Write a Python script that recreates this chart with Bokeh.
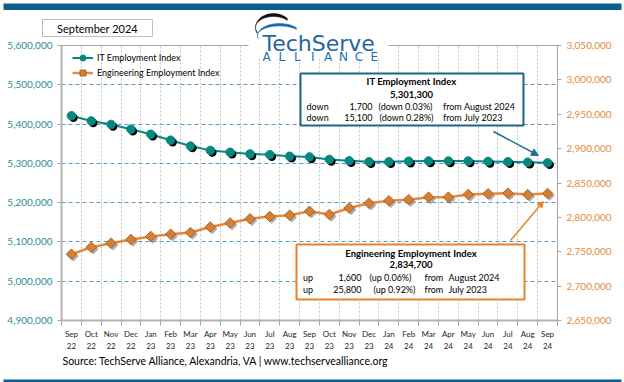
import math
from bokeh.plotting import figure
from bokeh.models import (Range1d, LinearAxis, FixedTicker, NumeralTickFormatter, Label,
                          BoxAnnotation, Arrow, NormalHead, Legend, LegendItem, ColumnDataSource)
from bokeh.transform import dodge
from bokeh.embed import file_html
from bokeh.resources import INLINE

# ---------------- data ----------------
month_labels = ["Sep", "Oct", "Nov", "Dec", "Jan", "Feb", "Mar", "Apr", "May", "Jun", "Jul", "Aug",
                "Sep", "Oct", "Nov", "Dec", "Jan", "Feb", "Mar", "Apr", "May", "Jun", "Jul", "Aug", "Sep"]
year_labels = ["22", "22", "22", "22", "23", "23", "23", "23", "23", "23", "23", "23",
               "23", "23", "23", "23", "24", "24", "24", "24", "24", "24", "24", "24", "24"]
it_index = [5421000, 5408000, 5399000, 5387000, 5374000, 5359000, 5344000, 5333000, 5328000,
            5324000, 5322000, 5318000, 5316400, 5310000, 5306500, 5304000, 5304000, 5305500,
            5306000, 5306000, 5306000, 5305000, 5304000, 5303000, 5301300]
eng_index = [2746400, 2756600, 2762400, 2767800, 2772200, 2775500, 2778000, 2786000, 2791800,
             2797900, 2801300, 2803200, 2808900, 2804200, 2813600, 2820600, 2824100, 2825700,
             2829400, 2829400, 2833300, 2834300, 2835200, 2833100, 2834700]
left_ticks = [4900000, 5000000, 5100000, 5200000, 5300000, 5400000, 5500000, 5600000]
right_ticks = [2650000, 2700000, 2750000, 2800000, 2850000, 2900000, 2950000, 3000000, 3050000]

n = len(month_labels)
xs = list(range(n))

TEAL = "#06877f"
ORANGE = "#e8883a"
FONT = "Lato"
LOGO_FONT = "DejaVu Sans"
W, H = 624, 382
FR_L, FR_R, FR_T, FR_B = 61, 557, 45, 320      # plot frame in page pixels
FW, FH = FR_R - FR_L, FR_B - FR_T

# ======================= main chart =======================
p = figure(width=W, height=H, output_backend="svg", toolbar_location=None, title=None,
           x_range=Range1d(-0.5, n - 0.5),
           y_range=Range1d(left_ticks[0], left_ticks[-1]),
           min_border_left=FR_L, min_border_right=W - FR_R,
           min_border_top=FR_T, min_border_bottom=H - FR_B,
           background_fill_color="white", border_fill_color="white")
p.extra_y_ranges = {"eng": Range1d(right_ticks[0], right_ticks[-1])}
p.outline_line_color = "#a6a6a6"
p.outline_line_width = 1

xa = p.xaxis[0]
xa.ticker = FixedTicker(ticks=xs, minor_ticks=[i - 0.5 for i in range(n + 1)])
xa.major_label_overrides = {i: f"{m}\n{y}" for i, (m, y) in enumerate(zip(month_labels, year_labels))}
xa.major_tick_line_color = None
xa.major_tick_out = 0
xa.minor_tick_out = 5
xa.minor_tick_in = 0
xa.minor_tick_line_color = "#a6a6a6"
xa.axis_line_color = "#b4b4b4"
xa.axis_line_width = 2
xa.major_label_text_font = FONT
xa.major_label_text_font_size = "8px"
xa.major_label_text_color = "#262626"
xa.major_label_standoff = 3

ya = p.yaxis[0]
ya.ticker = FixedTicker(ticks=left_ticks)
ya.formatter = NumeralTickFormatter(format="0,0")
ya.axis_line_color = "#b4b4b4"
ya.axis_line_width = 2
ya.major_tick_line_color = "#a6a6a6"
ya.major_tick_out = 4
ya.major_tick_in = 0
ya.minor_tick_line_color = None
ya.major_label_standoff = 5
ya.major_label_text_font = FONT
ya.major_label_text_font_size = "10px"
ya.major_label_text_color = "#2e8b9a"

ra = LinearAxis(y_range_name="eng", ticker=FixedTicker(ticks=right_ticks),
                formatter=NumeralTickFormatter(format="0,0"))
ra.axis_line_color = "#a6a6a6"
ra.major_tick_line_color = "#a6a6a6"
ra.major_tick_out = 4
ra.major_tick_in = 0
ra.minor_tick_line_color = None
ra.major_label_standoff = 5
ra.major_label_text_font = FONT
ra.major_label_text_font_size = "10px"
ra.major_label_text_color = "#e58a3c"
p.add_layout(ra, "right")

p.xgrid.ticker = FixedTicker(ticks=[i + 0.5 for i in range(n - 1)])
p.xgrid.grid_line_color = "#c4c4c4"
p.xgrid.grid_line_dash = "2 2"
p.ygrid.ticker = FixedTicker(ticks=left_ticks[1:-1])
p.ygrid.grid_line_color = "#5a9ac6"
p.ygrid.grid_line_dash = "4 3"

# series
src = ColumnDataSource(dict(x=xs, it=it_index, eng=eng_index))
sx = 2 / FW * n
it_per_px = (left_ticks[-1] - left_ticks[0]) / FH
eng_per_px = (right_ticks[-1] - right_ticks[0]) / FH
eng_line = p.line("x", "eng", source=src, y_range_name="eng", line_color=ORANGE, line_width=2.5)
p.scatter(x=dodge("x", sx), y=dodge("eng", -2 * eng_per_px), source=src, y_range_name="eng",
          marker="square", angle=math.pi / 4, size=7.5, fill_color="#8c8c8c", fill_alpha=0.7, line_color=None)
eng_pts = p.scatter("x", "eng", source=src, y_range_name="eng", marker="square", angle=math.pi / 4,
                    size=7.5, fill_color="#d47f34", line_color="#a0561a", line_width=0.8)
it_line = p.line("x", "it", source=src, line_color=TEAL, line_width=2)
p.scatter(x=dodge("x", sx), y=dodge("it", -2 * it_per_px), source=src, marker="circle", size=8.5,
          fill_color="black", line_color=None)
it_pts = p.scatter("x", "it", source=src, marker="circle", size=8.5, fill_color=TEAL, line_color=TEAL)

legend = Legend(items=[LegendItem(label="IT Employment Index", renderers=[it_line, it_pts]),
                       LegendItem(label="Engineering Employment Index", renderers=[eng_line, eng_pts])],
                location=(11, FH - 4.5 - 30), orientation="vertical",
                background_fill_alpha=0, border_line_color=None, padding=0, margin=0, spacing=0,
                glyph_width=21, glyph_height=15, label_height=15, label_standoff=4,
                label_text_font=FONT, label_text_font_size="9px", label_text_color="#000000")
p.add_layout(legend)

# ============ decoration layer: separate root drawn over the chart, transparent, page pixels ============
d = figure(width=W, height=H, output_backend="svg", toolbar_location=None, title=None,
           x_range=Range1d(0, W), y_range=Range1d(H, 0),
           x_axis_type=None, y_axis_type=None, min_border=0,
           background_fill_alpha=0, border_fill_alpha=0, margin=(-H, 0, 0, 0))
d.outline_line_color = None
d.grid.visible = False

def box(l, t, r, b, color=None, width=1.0, fill="white"):
    d.add_layout(BoxAnnotation(left=l, right=r, top=t, bottom=b, fill_color=fill, fill_alpha=1,
                               line_color=color, line_alpha=1 if color else 0, line_width=width))

def txt(x, y, s, size="9px", align="left", bold=False, color="#000000", font=FONT, baseline="middle"):
    d.add_layout(Label(x=x, y=y, text=s, text_font=font, text_font_size=size,
                       text_align=align, text_baseline=baseline, text_color=color,
                       text_font_style="bold" if bold else "normal"))

# bars
box(3, 3, 621, 9.5, fill="#0d5e8b")
box(3, 379, 621, 383, fill="#0d5e8b")

# date box
box(42, 19, 152, 36, "#bfbfbf")
txt(97, 27.5, "September 2024", size="11px", align="center")

# logo
box(248, 38, 388, 58)
th = [math.radians(a) for a in range(205, 35, -5)]
d.patch([273 + 18 * math.cos(t) for t in th] + [273 + 18 * math.cos(t) for t in reversed(th)],
        [27 - 14 * math.sin(t) for t in th] + [27 - 11 * math.sin(t) for t in reversed(th)],
        fill_color="#111111", line_color="#111111", line_width=0.5)
th2 = [math.radians(a) for a in range(195, 35, -5)]
d.patch([279 + 22 * math.cos(t) for t in th2] + [279 + 22 * math.cos(t) for t in reversed(th2)],
        [35 - 12 * math.sin(t) for t in th2] + [35 - 9.5 * math.sin(t) for t in reversed(th2)],
        fill_color="#1f6aa5", line_color="#1f6aa5", line_width=0.5)
txt(262, 43, "TechServe", size="22px", font=LOGO_FONT, color="#1f67a3", baseline="alphabetic")
for i, ch in enumerate("ALLIANCE"):
    txt(266 + i * 15.4, 56, ch, size="12px", font=LOGO_FONT, color="#1a6fb8", align="center",
        baseline="alphabetic")

# IT box
box(300, 73, 523, 125, "#1b6585", width=2)
txt(411, 81, "IT Employment Index", size="9.5px", align="center", bold=True)
txt(411, 94, "5,301,300", size="9.5px", align="center", bold=True)
for yy, a, b_, c, dd, cx in [(106, "down", "1,700", "(down 0.03%)", "August 2024", 378),
                              (117.3, "down", "15,100", "(down 0.28%)", "July 2023", 379)]:
    txt(306, yy, a)
    txt(372, yy, b_, align="right")
    txt(cx, yy, c)
    txt(442.5, yy, "from")
    txt(463.5, yy, dd)

# Engineering box
box(296, 244, 524, 299, "#e8822e", width=2)
txt(410.5, 253.3, "Engineering Employment Index", size="9.5px", align="center", bold=True)
txt(410.5, 264.3, "2,834,700", size="9.5px", align="center", bold=True)
for yy, a, b_, c, dd, cx in [(276.7, "up", "1,600", "(up 0.06%)", "August 2024", 369),
                              (289, "up", "25,800", "(up 0.92%)", "July 2023", 373)]:
    txt(302.5, yy, a)
    txt(361, yy, b_, align="right")
    txt(cx, yy, c)
    txt(424, yy, "from")
    txt(448, yy, dd)

# arrows
d.add_layout(Arrow(end=NormalHead(size=7, fill_color="#1b6f91", line_color="#1b6f91"),
                   x_start=493, y_start=131, x_end=538, y_end=155,
                   line_color="#1b6f91", line_width=1.5))
d.add_layout(Arrow(end=NormalHead(size=6, fill_color="#e8852e", line_color="#e8852e"),
                   x_start=510, y_start=240, x_end=543, y_end=201,
                   line_color="#e8852e", line_width=1.5))

# source
txt(62, 360.5, "Source: TechServe Alliance, Alexandria, VA | www.techservealliance.org", size="10.5px")

open("out.html", "w").write(file_html([p, d], INLINE))
